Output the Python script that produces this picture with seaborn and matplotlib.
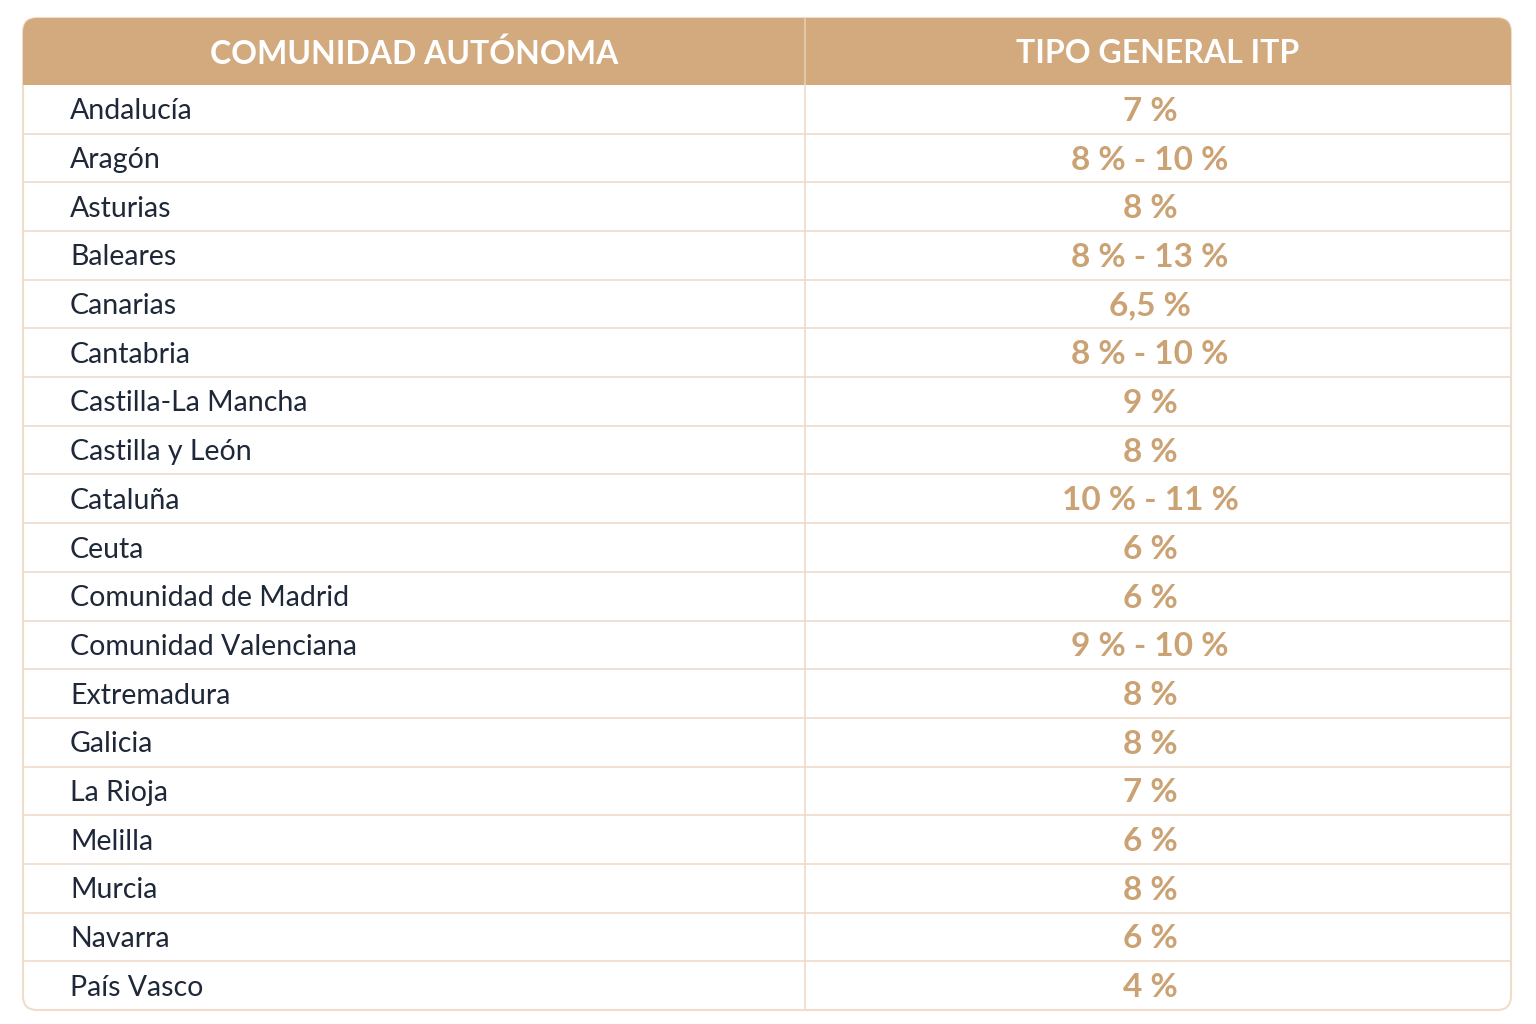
import matplotlib.pyplot as plt
import seaborn as sns
from matplotlib.patches import FancyBboxPatch, Rectangle

sns.set_theme(style="white")
plt.rcParams['font.family'] = ['Lato', 'DejaVu Sans']

headers = ["COMUNIDAD AUTÓNOMA", "TIPO GENERAL ITP"]
regions = ["Andalucía", "Aragón", "Asturias", "Baleares", "Canarias", "Cantabria",
           "Castilla-La Mancha", "Castilla y León", "Cataluña", "Ceuta",
           "Comunidad de Madrid", "Comunidad Valenciana", "Extremadura", "Galicia",
           "La Rioja", "Melilla", "Murcia", "Navarra", "País Vasco"]
rates = ["7 %", "8 % - 10 %", "8 %", "8 % - 13 %", "6,5 %", "8 % - 10 %", "9 %", "8 %",
         "10 % - 11 %", "6 %", "6 %", "9 % - 10 %", "8 %", "8 %", "7 %", "6 %", "8 %",
         "6 %", "4 %"]

head_col = "#D2AA7E"
val_col = "#CBA273"
line_col = "#F0DCCB"
name_col = "#1E2838"

fig = plt.figure(figsize=(15.36, 10.24), dpi=100)
ax = fig.add_axes([0, 0, 1, 1])
ax.set_xlim(0, 1536)
ax.set_ylim(1024, 0)
ax.axis("off")

x0, x1, xs = 23, 1511, 805
y0, yh, y1 = 18, 85, 1010
rh = (y1 - yh) / len(regions)

# outer frame
ax.add_patch(FancyBboxPatch((x0, y0), x1 - x0, y1 - y0, boxstyle="round,pad=0,rounding_size=14",
                            fc="white", ec=line_col, lw=1.5, zorder=1))
# header
ax.add_patch(FancyBboxPatch((x0, y0), x1 - x0, yh - y0, boxstyle="round,pad=0,rounding_size=14",
                            fc=head_col, ec="none", zorder=2))
ax.add_patch(Rectangle((x0, y0 + 20), x1 - x0, yh - y0 - 20, fc=head_col, ec="none", zorder=2))
ax.plot([xs, xs], [y0, yh], color="#E6CDB2", lw=1.2, zorder=3)
ax.plot([xs, xs], [yh, y1], color=line_col, lw=1.2, zorder=3)
ax.text((x0 + xs) / 2, (y0 + yh) / 2 + 2, headers[0], ha="center", va="center",
        color="white", fontsize=23, fontweight="bold", zorder=4)
ax.text((xs + x1) / 2, (y0 + yh) / 2 + 2, headers[1], ha="center", va="center",
        color="white", fontsize=23, fontweight="bold", zorder=4)

for i, (r, v) in enumerate(zip(regions, rates)):
    yc = yh + (i + 0.5) * rh + 2
    if i < len(regions) - 1:
        ax.plot([x0, x1], [yh + (i + 1) * rh] * 2, color=line_col, lw=1.2, zorder=3)
    ax.text(70, yc, r, ha="left", va="center", color=name_col, fontsize=20.5, zorder=4)
    ax.text(1150, yc, v, ha="center", va="center", color=val_col, fontsize=24,
            fontweight="bold", zorder=4)

fig.savefig("out.png", dpi=100, facecolor="white")
